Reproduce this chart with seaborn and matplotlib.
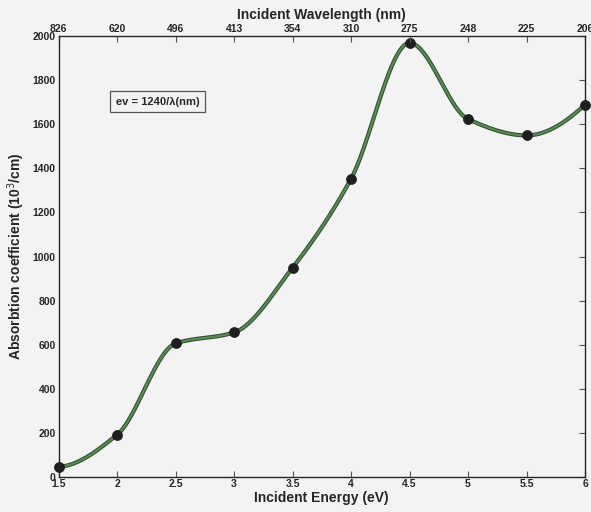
import numpy as np
import pandas as pd
import matplotlib
matplotlib.use("Agg")
import matplotlib.pyplot as plt
import seaborn as sns

energy = [1.5, 2.0, 2.5, 3.0, 3.5, 4.0, 4.5, 5.0, 5.5, 6.0]
absorption = [45, 190, 605, 655, 949, 1353, 1970, 1624, 1550, 1690]
wavelength_labels = ["826", "620", "496", "413", "354", "310", "275", "248", "225", "206"]
y_ticks = [0, 200, 400, 600, 800, 1000, 1200, 1400, 1600, 1800, 2000]


def pchip(x, y, xs):
    x = np.asarray(x, float)
    y = np.asarray(y, float)
    n = len(x)
    h = np.diff(x)
    d = np.diff(y) / h
    m = np.zeros(n)
    for k in range(1, n - 1):
        if d[k - 1] * d[k] > 0:
            w1 = 2 * h[k] + h[k - 1]
            w2 = h[k] + 2 * h[k - 1]
            m[k] = (w1 + w2) / (w1 / d[k - 1] + w2 / d[k])

    def end(h0, h1, d0, d1):
        s = ((2 * h0 + h1) * d0 - h0 * d1) / (h0 + h1)
        if np.sign(s) != np.sign(d0):
            s = 0.0
        elif np.sign(d0) != np.sign(d1) and abs(s) > abs(3 * d0):
            s = 3 * d0
        return s

    m[0] = end(h[0], h[1], d[0], d[1])
    m[-1] = end(h[-1], h[-2], d[-1], d[-2])
    idx = np.clip(np.searchsorted(x, xs) - 1, 0, n - 2)
    hh = h[idx]
    t = (xs - x[idx]) / hh
    h00 = 2 * t ** 3 - 3 * t ** 2 + 1
    h10 = t ** 3 - 2 * t ** 2 + t
    h01 = -2 * t ** 3 + 3 * t ** 2
    h11 = t ** 3 - t ** 2
    return h00 * y[idx] + h10 * hh * m[idx] + h01 * y[idx + 1] + h11 * hh * m[idx + 1]


sns.set_style("white")
plt.rcParams["font.family"] = ["Liberation Sans", "DejaVu Sans"]

bg = "#f3f3f3"
fig = plt.figure(figsize=(5.91, 5.12), dpi=100, facecolor=bg)
ax = fig.add_axes([0.099, 0.069, 0.891, 0.860], facecolor=bg)

xs = np.linspace(energy[0], energy[-1], 600)
curve = pd.DataFrame({"E": xs, "A": pchip(energy, absorption, xs)})
pts = pd.DataFrame({"E": energy, "A": absorption})

sns.lineplot(data=curve, x="E", y="A", ax=ax, color="#2f4f32", linewidth=3.0, zorder=2)
sns.lineplot(data=curve, x="E", y="A", ax=ax, color="#5a8a55", linewidth=1.5, zorder=3)
sns.scatterplot(data=pts, x="E", y="A", ax=ax, color="#1e1e1e", s=52, edgecolor="#1e1e1e",
                linewidth=0.5, zorder=4, clip_on=False)

ax.set_xlim(1.5, 6)
ax.set_ylim(0, 2000)
ax.set_xticks(energy)
ax.set_xticklabels([f"{e:g}" for e in energy])
ax.set_yticks(y_ticks)
for s in ax.spines.values():
    s.set_visible(True)
    s.set_color("#555555")
    s.set_linewidth(1.0)
ax.tick_params(direction="in", length=4, width=0.8, color="#555555", labelsize=7.5,
               right=True, pad=2)
for lab in ax.get_xticklabels() + ax.get_yticklabels():
    lab.set_fontweight("bold")
ax.set_xlabel("Incident Energy (eV)", fontsize=10, fontweight="bold", labelpad=1)
ax.set_ylabel("Absorbtion coefficient (10$^{3}$/cm)", fontsize=10, fontweight="bold", labelpad=4)

ax2 = ax.twiny()
ax2.set_xlim(1.5, 6)
ax2.set_xticks(energy)
ax2.set_xticklabels(wavelength_labels)
ax2.tick_params(direction="in", length=4, width=0.8, color="#555555", labelsize=7.5, pad=2)
for lab in ax2.get_xticklabels():
    lab.set_fontweight("bold")
ax2.set_xlabel("Incident Wavelength (nm)", fontsize=10, fontweight="bold", labelpad=3)

ax.text(1.99, 1703, "ev = 1240/λ(nm)", fontsize=8, fontweight="bold", va="center", ha="left",
        bbox=dict(boxstyle="square,pad=0.5", facecolor=bg, edgecolor="#555555", linewidth=0.9))

fig.savefig("out.png", dpi=100, facecolor=bg)
